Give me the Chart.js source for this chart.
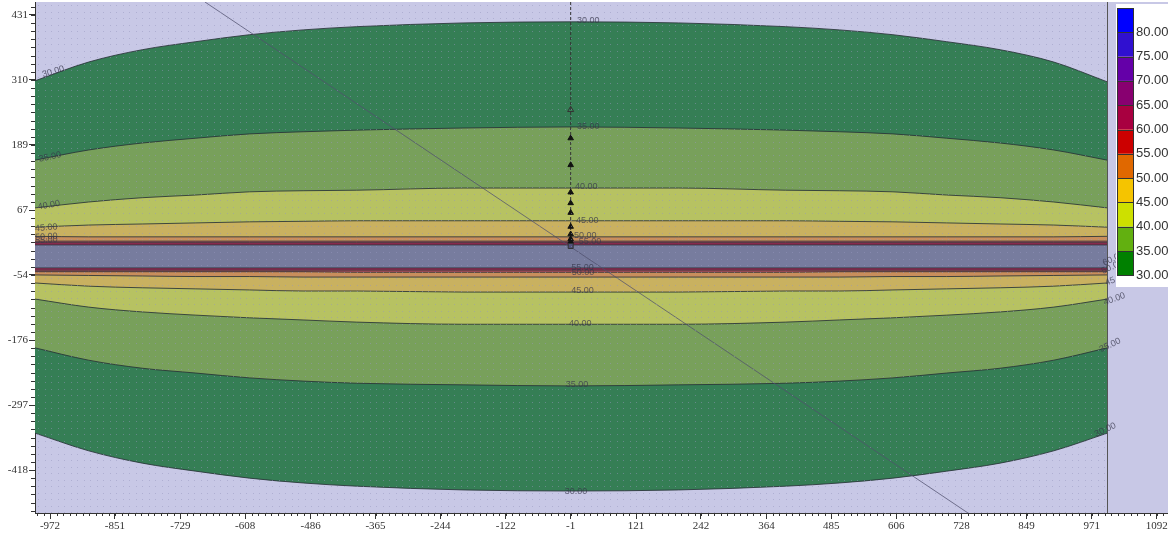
<!DOCTYPE html>
<html>
<head>
<meta charset="utf-8">
<script src="https://cdn.jsdelivr.net/npm/chart.js@4.4.1/dist/chart.umd.min.js"></script>
<style>
  html, body { margin: 0; padding: 0; background: #fff; }
  #wrap { width: 1168px; height: 535px; position: relative; }
</style>
</head>
<body>
<div id="wrap"><canvas id="chart"></canvas></div>
<script>
// --- Values (model units) ---
const xSamples = [-1000, -900, -800, -700, -600, -500, -400, -200, 0, 200, 400, 500, 600, 700, 800, 900, 1000];

const c30Top = [308, 343, 366, 381, 394, 403, 409, 416, 418, 416, 409, 403, 394, 381, 366, 343, 306];
const c30Bot = [-349, -382, -405, -420, -433, -442, -448, -455, -457, -455, -448, -442, -433, -420, -405, -382, -349];
const c35Top = [160, 179, 192, 201, 209, 213, 216, 220, 222, 220, 216, 213, 209, 201, 192, 179, 160];
const c35Bot = [-190, -213, -228, -237, -246, -252, -256, -259, -261, -259, -256, -252, -246, -237, -228, -213, -190];
const c40Top = [71, 82, 90, 95, 101, 103, 104, 108, 108, 108, 104, 103, 101, 95, 90, 82, 71];
const c40Bot = [-99, -114, -123, -129, -134, -138, -142, -146, -146, -146, -142, -138, -134, -129, -123, -114, -99];
const c45Top = [35, 39, 41, 43, 45, 46, 47, 47, 47, 47, 47, 46, 45, 43, 41, 39, 35];
const c45Bot = [-69, -75, -78, -80, -82, -84, -84, -86, -86, -86, -84, -84, -82, -80, -78, -75, -69];
const c50Top = [18, 17, 17, 17, 17, 17, 17, 17, 17, 17, 17, 17, 17, 17, 17, 17, 18];
const c50Bot = [-54, -55, -56, -57, -57, -58, -58, -58, -58, -58, -58, -58, -57, -57, -56, -55, -54];
const c55Top = [9, 9, 9, 9, 9, 9, 9, 9, 9, 9, 9, 9, 9, 9, 9, 9, 9];
const c55Bot = [-48, -48, -48, -48, -48, -48, -49, -49, -49, -49, -49, -48, -48, -48, -48, -48, -48];
const c60Top = [6, 6, 6, 6, 6, 6, 6, 6, 6, 6, 6, 6, 6, 6, 6, 6, 6];
const c60Bot = [-45, -45, -45, -45, -45, -45, -45, -45, -45, -45, -45, -45, -45, -45, -45, -45, -45];
const voidTop = [2, 2, 2, 2, 2, 2, 2, 2, 2, 2, 2, 2, 2, 2, 2, 2, 2];
const voidBot = [-41, -41, -41, -41, -41, -41, -41, -41, -41, -41, -41, -41, -41, -41, -41, -41, -41];

// query line and borehole
const queryLineX = [-683, 740];
const queryLineY = [455, -498];
const boreX = -1;
const boreTopY = 455;
const markerY = [201, 151, 100, 80, 62, 36, 22, 13, 8];
const hollowMarkerY = [254];
const squareMarkerY = [0];

// axis ticks
const xTicks = [-972, -851, -729, -608, -486, -365, -244, -122, -1, 121, 242, 364, 485, 606, 728, 849, 971, 1092];
const yTicks = [431, 310, 189, 67, -54, -176, -297, -418];

// legend
const legendLabels = ['80.00', '75.00', '70.00', '65.00', '60.00', '55.00', '50.00', '45.00', '40.00', '35.00', '30.00'];
const legendColors = ['#0000ff', '#3010d0', '#6400a8', '#880070', '#a80040', '#cc0000', '#e06800', '#f5c400', '#cde000', '#62b010', '#008000'];

// contour labels (text, anchor x, anchor y, angle)
const contourLabelText = ['30.00', '35.00', '40.00', '45.00', '50.00', '55.00', '55.00', '50.00', '45.00', '40.00', '35.00', '30.00',
  '30.00', '35.00', '40.00', '45.00', '50.00', '55.00',
  '60.00', '50.00', '45.00', '40.00', '35.00', '30.00'];
const contourLabelX = [32, 32, 28, 30, 26, 35, 21, 22, 21, 17, 11, 9,
  -966, -972, -974, -979, -979, -979,
  1011, 1009, 1016, 1013, 1005, 996];
const contourLabelY = [420, 222, 110, 47, 19, 9, -41, -50, -84, -144, -259, -457,
  325, 166, 76, 34, 17, 11,
  -24, -39, -62, -99, -185, -343];
const contourLabelAngle = [0, 0, 0, 0, 0, 0, 0, 0, 0, 0, 0, 0,
  -17, -12, -10, -5, -3, -3,
  -25, -25, -20, -20, -25, -25];

// --- Styles ---
const bands = [
  { top: c30Top, bot: c30Bot, color: '#357e55' },
  { top: c35Top, bot: c35Bot, color: '#78a05b' },
  { top: c40Top, bot: c40Bot, color: '#b7c262' },
  { top: c45Top, bot: c45Bot, color: '#c9b160' },
  { top: c50Top, bot: c50Bot, color: '#c98e5c' },
  { top: c55Top, bot: c55Bot, color: '#b8505c' },
  { top: c60Top, bot: c60Bot, color: '#a22a55' },
  { top: voidTop, bot: voidBot, color: '#777c9e' }
];
const LINE_COLOR = 'rgba(40,50,55,0.85)';
const LAVENDER = '#c8c8e6';
const AXIS_FONT = { family: '"Liberation Serif", "DejaVu Serif", serif', size: 11 };

function pts(ys) { return xSamples.map((x, i) => ({ x: x, y: ys[i] })); }

const datasets = [];
bands.forEach(b => {
  datasets.push({
    data: pts(b.top), fill: '+1', backgroundColor: b.color,
    borderColor: LINE_COLOR, borderWidth: 1, pointRadius: 0,
    cubicInterpolationMode: 'monotone'
  });
  datasets.push({
    data: pts(b.bot), fill: false,
    borderColor: LINE_COLOR, borderWidth: 1, pointRadius: 0,
    cubicInterpolationMode: 'monotone'
  });
});
datasets.push({
  data: queryLineX.map((x, i) => ({ x: x, y: queryLineY[i] })),
  borderColor: 'rgba(80,80,110,0.75)', borderWidth: 1, pointRadius: 0, fill: false
});
datasets.push({
  data: [{ x: boreX, y: boreTopY }, { x: boreX, y: squareMarkerY[0] }],
  borderColor: '#333', borderWidth: 1, borderDash: [3, 2], pointRadius: 0, fill: false
});
datasets.push({
  data: markerY.map(y => ({ x: boreX, y: y })), showLine: false,
  pointStyle: 'triangle', pointRadius: 3.2, backgroundColor: '#111', borderColor: '#111', borderWidth: 1
});
datasets.push({
  data: hollowMarkerY.map(y => ({ x: boreX, y: y })), showLine: false,
  pointStyle: 'triangle', pointRadius: 3.5, backgroundColor: 'rgba(0,0,0,0)', borderColor: '#333', borderWidth: 1
});
datasets.push({
  data: squareMarkerY.map(y => ({ x: boreX, y: y })), showLine: false,
  pointStyle: 'rect', pointRadius: 3.5, backgroundColor: '#50507a', borderColor: '#333', borderWidth: 1
});
// earlier datasets drawn first
datasets.forEach((d, i) => { d.order = datasets.length - i; });

// --- Plugins ---
const backgroundPlugin = {
  id: 'bg',
  beforeDraw(chart) {
    const { ctx, chartArea: a } = chart;
    ctx.save();
    ctx.fillStyle = '#fff';
    ctx.fillRect(0, 0, chart.width, chart.height);
    ctx.fillStyle = LAVENDER;
    ctx.fillRect(a.left, a.top, a.right - a.left, a.bottom - a.top);
    ctx.restore();
  }
};

const overlayPlugin = {
  id: 'overlay',
  afterDatasetsDraw(chart) {
    const { ctx, chartArea: a, scales: { x, y } } = chart;
    const edge = x.getPixelForValue(1000);
    ctx.save();
    ctx.beginPath();
    ctx.rect(a.left, a.top, a.right - a.left, a.bottom - a.top);
    ctx.clip();
    // dotted grid pattern inside the model
    ctx.fillStyle = 'rgba(150,150,190,0.5)';
    for (let px = a.left + 3; px < edge; px += 6.5) {
      for (let py = a.top + 3; py < a.bottom; py += 6.5) {
        ctx.fillRect(Math.round(px), Math.round(py), 1, 1);
      }
    }
    // model right boundary
    ctx.strokeStyle = '#555';
    ctx.lineWidth = 1;
    ctx.beginPath();
    ctx.moveTo(Math.round(edge) + 0.5, a.top);
    ctx.lineTo(Math.round(edge) + 0.5, a.bottom);
    ctx.stroke();
    // contour labels
    ctx.font = '9px "Liberation Sans", Arial, sans-serif';
    ctx.fillStyle = 'rgba(55,55,75,0.75)';
    ctx.textAlign = 'center';
    ctx.textBaseline = 'middle';
    contourLabelText.forEach((t, i) => {
      ctx.save();
      ctx.translate(x.getPixelForValue(contourLabelX[i]), y.getPixelForValue(contourLabelY[i]));
      ctx.rotate(contourLabelAngle[i] * Math.PI / 180);
      ctx.fillText(t, 0, 0);
      ctx.restore();
    });
    ctx.restore();
  },
  afterDraw(chart) {
    const { ctx, chartArea: a, scales: { x, y } } = chart;
    ctx.save();
    ctx.strokeStyle = '#333';
    ctx.lineWidth = 1;
    // minor ticks x
    const xs = (xTicks[xTicks.length - 1] - xTicks[0]) / (xTicks.length - 1) / 10;
    ctx.beginPath();
    for (let v = xTicks[0]; v >= x.min; v -= xs) { const p = Math.round(x.getPixelForValue(v)) + 0.5; ctx.moveTo(p, a.bottom); ctx.lineTo(p, a.bottom + 3); }
    for (let v = xTicks[0]; v <= x.max; v += xs) { const p = Math.round(x.getPixelForValue(v)) + 0.5; ctx.moveTo(p, a.bottom); ctx.lineTo(p, a.bottom + 3); }
    // minor ticks y
    const ys = (yTicks[0] - yTicks[yTicks.length - 1]) / (yTicks.length - 1) / 8;
    for (let v = yTicks[0]; v >= y.min; v -= ys) { const p = Math.round(y.getPixelForValue(v)) + 0.5; ctx.moveTo(a.left, p); ctx.lineTo(a.left - 4, p); }
    for (let v = yTicks[0]; v <= y.max; v += ys) { const p = Math.round(y.getPixelForValue(v)) + 0.5; ctx.moveTo(a.left, p); ctx.lineTo(a.left - 4, p); }
    ctx.stroke();

    // colour legend
    const bx = 1116, top = 8, sw = 17, sh = 24.3;
    ctx.fillStyle = '#fff';
    ctx.fillRect(bx, 4, chart.width - bx, 283);
    legendColors.forEach((c, i) => {
      ctx.fillStyle = c;
      ctx.fillRect(bx + 1, top + i * sh, sw, sh);
    });
    ctx.strokeStyle = '#333';
    ctx.beginPath();
    for (let i = 0; i <= legendColors.length; i++) {
      const p = Math.round(top + i * sh) + 0.5;
      ctx.moveTo(bx + 1, p); ctx.lineTo(bx + 1 + sw, p);
    }
    ctx.moveTo(bx + 1.5, top); ctx.lineTo(bx + 1.5, top + legendColors.length * sh);
    ctx.moveTo(bx + sw + 0.5, top); ctx.lineTo(bx + sw + 0.5, top + legendColors.length * sh);
    ctx.stroke();
    ctx.fillStyle = '#333';
    ctx.font = '13px "Liberation Sans", Arial, sans-serif';
    ctx.textAlign = 'left';
    ctx.textBaseline = 'middle';
    legendLabels.forEach((t, i) => {
      ctx.fillText(t, bx + sw + 3, top + (i + 1) * sh);
    });
    ctx.restore();
  }
};

function noPad(s) {
  s.paddingLeft = 0; s.paddingRight = 0; s.paddingTop = 0; s.paddingBottom = 0;
}

new Chart(document.getElementById('chart'), {
  type: 'line',
  data: { datasets: datasets },
  options: {
    responsive: true,
    maintainAspectRatio: false,
    animation: false,
    devicePixelRatio: 1,
    layout: { autoPadding: false, padding: { top: 2, right: 0, bottom: 0, left: 0 } },
    plugins: { legend: { display: false }, tooltip: { enabled: false } },
    scales: {
      x: {
        type: 'linear', min: -1000, max: 1113,
        afterBuildTicks: s => { s.ticks = xTicks.map(v => ({ value: v })); },
        afterFit: s => { s.height = 22; noPad(s); },
        ticks: { font: AXIS_FONT, color: '#333', padding: 1, maxRotation: 0, autoSkip: false, callback: v => String(v) },
        grid: { drawOnChartArea: false, tickLength: 6, color: '#333' },
        border: { color: '#333' }
      },
      y: {
        type: 'linear', min: -498, max: 455,
        afterBuildTicks: s => { s.ticks = yTicks.map(v => ({ value: v })); },
        afterFit: s => { s.width = 35; noPad(s); },
        ticks: { font: AXIS_FONT, color: '#333', padding: 1, autoSkip: false, callback: v => String(v) },
        grid: { drawOnChartArea: false, tickLength: 6, color: '#333' },
        border: { color: '#333' }
      }
    }
  },
  plugins: [backgroundPlugin, overlayPlugin]
});
</script>
</body>
</html>
